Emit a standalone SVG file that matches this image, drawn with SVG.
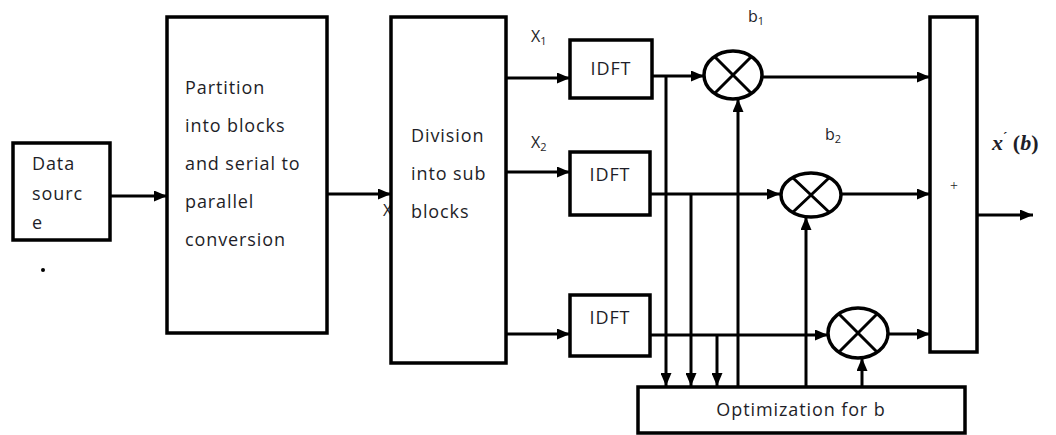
<svg xmlns="http://www.w3.org/2000/svg" width="1056" height="435" viewBox="0 0 1056 435">
<defs>
<marker id="ah" markerUnits="userSpaceOnUse" markerWidth="13" markerHeight="11" refX="13" refY="5.5" orient="auto">
<path d="M0,0 L13,5.5 L0,11 z" fill="#000"/>
</marker>
<style>
.box{fill:#fff;stroke:#000;stroke-width:3.5}
.mul{fill:#fff;stroke:#000;stroke-width:3.5}
.x{stroke:#000;stroke-width:3}
.c{fill:none;stroke:#000;stroke-width:3;marker-end:url(#ah)}
.t{font-family:"Open Sans","Liberation Sans",sans-serif;font-size:18px;letter-spacing:0.9px;fill:#1e1e28}
.s{font-family:"Open Sans","Liberation Sans",sans-serif;font-size:16px;fill:#1e1e28}
.sub{font-size:11px}
</style>
</defs>
<rect width="1056" height="435" fill="#fff"/>
<text class="s" x="383" y="216">X</text>
<g id="connectors">
<path class="c" d="M110,196 H167"/>
<path class="c" d="M327,194 H391"/>
<path class="c" d="M506,78 H570"/>
<path class="c" d="M506,172 H570"/>
<path class="c" d="M506,334 H570"/>
<path class="c" d="M652,76 H704"/>
<path class="c" d="M650,194 H780"/>
<path class="c" d="M650,335 H828"/>
<path class="c" d="M763,77 H930"/>
<path class="c" d="M842,194 H930"/>
<path class="c" d="M889,334 H930"/>
<path class="c" d="M977,215 H1033"/>
<path class="c" d="M666,76 V386"/>
<path class="c" d="M691,194 V386"/>
<path class="c" d="M717,335 V386"/>
<path class="c" d="M738,387 V99"/>
<path class="c" d="M806,387 V217"/>
<path class="c" d="M862,387 V358"/>
</g>
<g id="data-source">
<rect class="box" x="13" y="143" width="97" height="97"/>
<text class="t" x="32" y="170">Data</text>
<text class="t" x="32" y="200">sourc</text>
<text class="t" x="32" y="229">e</text>
</g>
<circle cx="43" cy="270" r="2" fill="#000"/>
<g id="partition">
<rect class="box" x="167" y="17" width="160" height="316"/>
<text class="t" x="185" y="94">Partition</text>
<text class="t" x="185" y="132">into blocks</text>
<text class="t" x="185" y="170">and serial to</text>
<text class="t" x="185" y="208">parallel</text>
<text class="t" x="185" y="246">conversion</text>
</g>
<g id="division">
<rect class="box" x="391" y="17" width="115" height="346"/>
<text class="t" x="411" y="142">Division</text>
<text class="t" x="411" y="180">into sub</text>
<text class="t" x="411" y="218">blocks</text>
</g>
<g id="x-labels">
<text class="s" x="531" y="42">X<tspan class="sub" dy="3">1</tspan></text>
<text class="s" x="531" y="148">X<tspan class="sub" dy="3">2</tspan></text>
</g>
<g id="idft1">
<rect class="box" x="570" y="40" width="82" height="58"/>
<text class="t" x="611" y="75" text-anchor="middle">IDFT</text>
</g>
<g id="idft2">
<rect class="box" x="570" y="152" width="80" height="63"/>
<text class="t" x="610" y="181" text-anchor="middle">IDFT</text>
</g>
<g id="idft3">
<rect class="box" x="570" y="295" width="80" height="61"/>
<text class="t" x="610" y="324" text-anchor="middle">IDFT</text>
</g>
<g id="mul1">
<ellipse class="mul" cx="733" cy="75" rx="29" ry="24"/>
<path class="x" d="M714,56 L752,94 M752,56 L714,94"/>
<text class="s" x="748" y="22">b<tspan class="sub" dy="3">1</tspan></text>
</g>
<g id="mul2">
<ellipse class="mul" cx="811" cy="195" rx="30" ry="22"/>
<path class="x" d="M792,177 L830,213 M830,177 L792,213"/>
<text class="s" x="825" y="140">b<tspan class="sub" dy="3">2</tspan></text>
</g>
<g id="mul3">
<ellipse class="mul" cx="858" cy="333" rx="30" ry="25"/>
<path class="x" d="M839,314 L877,352 M877,314 L839,352"/>
</g>
<g id="sum">
<rect class="box" x="930" y="17" width="47" height="335"/>
<text x="954" y="190" text-anchor="middle" font-family="Liberation Serif,serif" font-size="14" fill="#1e1e28">+</text>
</g>
<g id="output-label">
<text x="992" y="150" font-family="Liberation Serif,serif" font-size="22" font-weight="bold" fill="#1e1e28"><tspan font-style="italic">x</tspan><tspan font-size="13" dy="-9">´</tspan><tspan dy="9"> (</tspan><tspan font-style="italic">b</tspan>)</text>
</g>
<g id="optimization">
<rect class="box" x="638" y="387" width="327" height="46"/>
<text class="t" x="801" y="416" text-anchor="middle">Optimization for b</text>
</g>
</svg>
